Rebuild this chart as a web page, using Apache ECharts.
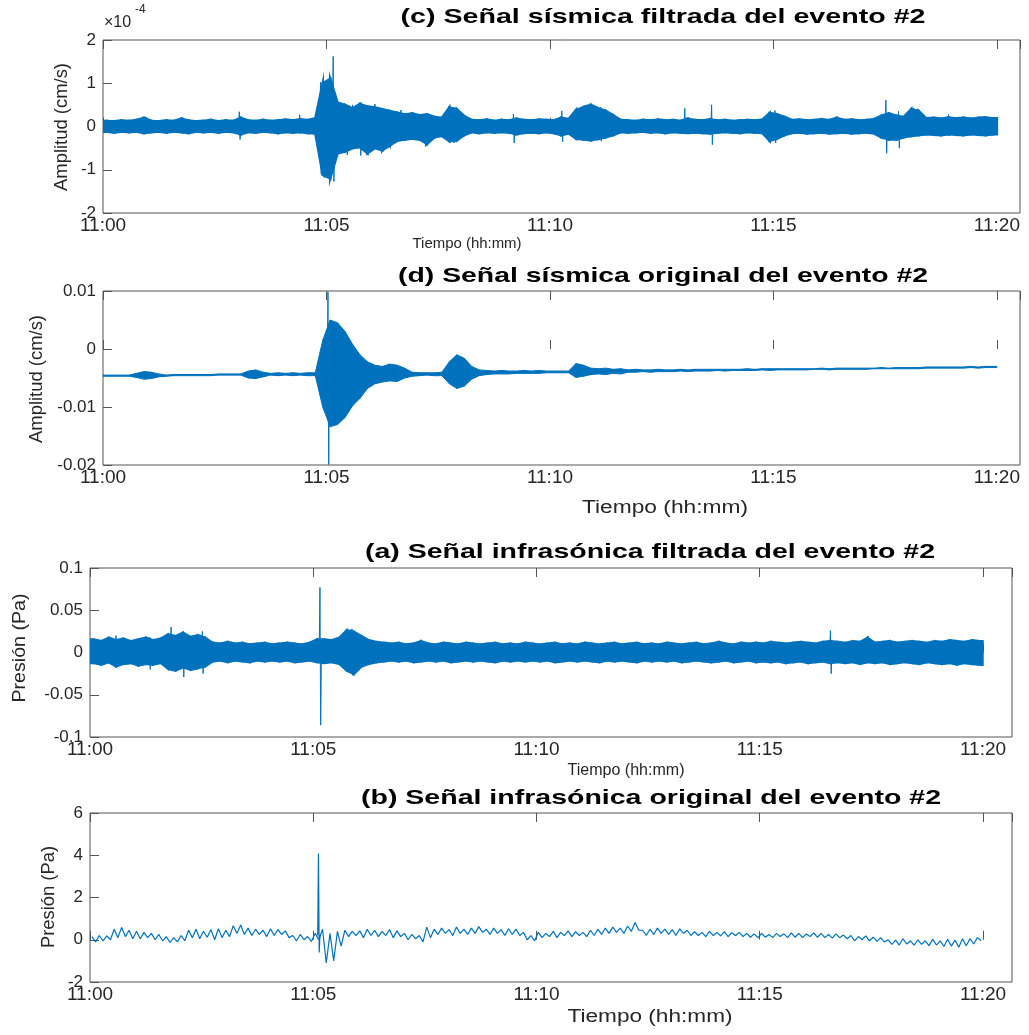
<!DOCTYPE html>
<html>
<head>
<meta charset="utf-8">
<script src="https://cdn.jsdelivr.net/npm/echarts@6/dist/echarts.min.js"></script>
<style>
  html, body { margin: 0; padding: 0; background: #ffffff; }
  #chart { width: 1029px; height: 1035px; }
</style>
</head>
<body>
<div id="chart"></div>
<script>
// Time runs in seconds after 11:00:00; every envelope value covers a 10 s bin.
const BIN = 10;
const tickSeconds = [0, 300, 600, 900, 1200];
const tickLabels = ['11:00', '11:05', '11:10', '11:15', '11:20'];

// (c) filtered seismic signal, envelope in units of 1e-4 cm/s
const seisFiltHi = [
  0.13,0.12,0.14,0.13,0.15,0.2,0.13,0.12,0.14,0.13,
  0.18,0.14,0.12,0.13,0.15,0.12,0.14,0.13,0.2,0.14,
  0.13,0.15,0.13,0.14,0.16,0.14,0.17,0.15,0.19,1.0,
  1.1,0.55,0.5,0.42,0.52,0.46,0.44,0.4,0.36,0.32,
  0.28,0.3,0.26,0.28,0.22,0.2,0.44,0.4,0.24,0.15,
  0.14,0.16,0.13,0.15,0.14,0.18,0.15,0.14,0.16,0.15,
  0.14,0.2,0.17,0.38,0.45,0.5,0.42,0.36,0.26,0.15,
  0.14,0.13,0.15,0.14,0.16,0.14,0.15,0.13,0.18,0.15,
  0.14,0.17,0.14,0.15,0.13,0.14,0.15,0.14,0.16,0.31,
  0.28,0.22,0.15,0.16,0.14,0.15,0.17,0.15,0.2,0.15,
  0.16,0.14,0.15,0.17,0.25,0.3,0.25,0.22,0.4,0.36,
  0.19,0.2,0.18,0.21,0.19,0.2,0.18,0.2,0.21,0.19
];
const seisFiltLo = [
  -0.12,-0.14,-0.12,-0.13,-0.12,-0.15,-0.13,-0.12,-0.14,-0.12,
  -0.13,-0.15,-0.12,-0.13,-0.12,-0.14,-0.12,-0.13,-0.18,-0.13,
  -0.14,-0.12,-0.13,-0.15,-0.13,-0.14,-0.13,-0.15,-0.16,-1.12,
  -1.2,-0.62,-0.58,-0.5,-0.48,-0.62,-0.5,-0.55,-0.44,-0.33,
  -0.3,-0.28,-0.3,-0.4,-0.25,-0.22,-0.34,-0.32,-0.2,-0.13,
  -0.15,-0.13,-0.14,-0.13,-0.14,-0.18,-0.15,-0.14,-0.15,-0.13,
  -0.15,-0.2,-0.16,-0.28,-0.3,-0.32,-0.29,-0.25,-0.2,-0.13,
  -0.14,-0.13,-0.12,-0.14,-0.13,-0.15,-0.13,-0.14,-0.15,-0.14,
  -0.15,-0.16,-0.14,-0.13,-0.14,-0.15,-0.13,-0.14,-0.15,-0.33,
  -0.28,-0.2,-0.15,-0.14,-0.16,-0.15,-0.14,-0.16,-0.15,-0.14,
  -0.16,-0.15,-0.14,-0.16,-0.25,-0.3,-0.3,-0.25,-0.22,-0.2,
  -0.18,-0.19,-0.2,-0.18,-0.19,-0.2,-0.18,-0.19,-0.2,-0.18
];
// isolated spikes: [second, peak, trough]
const seisFiltSpikes = [
  [58,0.22,-0.16],[107,0.21,-0.17],[183,0.34,-0.3],[264,0.27,-0.16],
  [292,1.02,-1.1],[296,1.15,-1.18],[301,1.08,-1.05],[309,1.62,-1.27],
  [318,0.55,-0.55],[327,0.4,-0.66],[335,0.5,-0.45],[345,0.45,-0.67],
  [356,0.48,-0.6],[365,0.52,-0.5],[373,0.3,-0.62],[385,0.35,-0.5],
  [400,0.38,-0.3],[432,0.25,-0.46],[470,0.45,-0.38],[551,0.29,-0.38],
  [616,0.36,-0.35],[650,0.5,-0.3],[668,0.45,-0.34],[781,0.42,-0.16],
  [817,0.5,-0.42],[902,0.37,-0.38],[1051,0.61,-0.62],[1068,0.35,-0.5],
  [1088,0.43,-0.2],[1135,0.28,-0.22]
];

// (d) raw seismic signal, envelope in cm/s
const seisRawHi = [
  -0.0045,-0.0045,-0.0045,-0.0045,-0.0042,-0.0039,-0.0040,-0.0043,-0.0045,-0.0044,
  -0.0044,-0.0044,-0.0044,-0.0044,-0.0044,-0.0043,-0.0043,-0.0043,-0.0043,-0.0038,
  -0.0036,-0.0040,-0.0042,-0.0041,-0.0042,-0.0041,-0.0042,-0.0041,-0.0041,0.0015,
  0.0050,0.0045,0.0030,0.0008,-0.0010,-0.0022,-0.0028,-0.0030,-0.0026,-0.0028,
  -0.0033,-0.0040,-0.0041,-0.0041,-0.0041,-0.0040,-0.0022,-0.0010,-0.0016,-0.0030,
  -0.0036,-0.0037,-0.0038,-0.0037,-0.0038,-0.0038,-0.0037,-0.0038,-0.0037,-0.0038,
  -0.0038,-0.0038,-0.0038,-0.0025,-0.0028,-0.0033,-0.0034,-0.0033,-0.0035,-0.0034,
  -0.0036,-0.0035,-0.0036,-0.0036,-0.0035,-0.0036,-0.0036,-0.0035,-0.0036,-0.0035,
  -0.0035,-0.0035,-0.0035,-0.0035,-0.0035,-0.0035,-0.0034,-0.0035,-0.0034,-0.0034,
  -0.0034,-0.0034,-0.0034,-0.0034,-0.0034,-0.0034,-0.0033,-0.0034,-0.0033,-0.0033,
  -0.0033,-0.0033,-0.0033,-0.0033,-0.0032,-0.0033,-0.0032,-0.0032,-0.0032,-0.0032,
  -0.0031,-0.0031,-0.0031,-0.0031,-0.0031,-0.0031,-0.0030,-0.0031,-0.0030,-0.0030
];
const seisRawLo = [
  -0.0047,-0.0047,-0.0047,-0.0047,-0.0049,-0.0052,-0.0051,-0.0048,-0.0047,-0.0046,
  -0.0046,-0.0046,-0.0046,-0.0046,-0.0046,-0.0045,-0.0045,-0.0045,-0.0045,-0.0050,
  -0.0051,-0.0048,-0.0045,-0.0046,-0.0045,-0.0046,-0.0045,-0.0046,-0.0046,-0.0100,
  -0.0134,-0.0130,-0.0118,-0.0098,-0.0085,-0.0068,-0.0060,-0.0057,-0.0055,-0.0056,
  -0.0050,-0.0047,-0.0046,-0.0045,-0.0046,-0.0046,-0.0060,-0.0068,-0.0064,-0.0052,
  -0.0046,-0.0044,-0.0043,-0.0043,-0.0043,-0.0042,-0.0042,-0.0042,-0.0042,-0.0041,
  -0.0041,-0.0041,-0.0041,-0.0049,-0.0047,-0.0044,-0.0043,-0.0044,-0.0042,-0.0043,
  -0.0040,-0.0040,-0.0039,-0.0040,-0.0039,-0.0039,-0.0039,-0.0038,-0.0039,-0.0038,
  -0.0038,-0.0038,-0.0037,-0.0038,-0.0037,-0.0037,-0.0037,-0.0037,-0.0036,-0.0037,
  -0.0036,-0.0036,-0.0036,-0.0036,-0.0036,-0.0035,-0.0035,-0.0036,-0.0035,-0.0035,
  -0.0035,-0.0035,-0.0035,-0.0034,-0.0034,-0.0034,-0.0034,-0.0034,-0.0034,-0.0034,
  -0.0033,-0.0033,-0.0033,-0.0033,-0.0033,-0.0033,-0.0032,-0.0033,-0.0032,-0.0032
];
// [second, peak, trough, level]
const seisRawSpikes = [
  [296, 0.0018, -0.0105, -0.004], [302, 0.0098, -0.0199, -0.004],
  [309, 0.0042, -0.0128, -0.004], [318, 0.0035, -0.0120, -0.004],
  [330, 0.0012, -0.0100, -0.004]
];

// (a) filtered infrasound signal, envelope in Pa
const infraFiltHi = [
  0.016,0.014,0.018,0.015,0.017,0.014,0.016,0.018,0.015,0.017,
  0.022,0.02,0.024,0.019,0.021,0.018,0.012,0.011,0.013,0.011,
  0.012,0.01,0.011,0.012,0.01,0.011,0.012,0.011,0.01,0.012,
  0.016,0.016,0.015,0.018,0.027,0.025,0.02,0.015,0.013,0.012,
  0.011,0.012,0.01,0.011,0.014,0.011,0.01,0.012,0.011,0.01,
  0.012,0.011,0.01,0.011,0.012,0.01,0.011,0.01,0.012,0.011,
  0.01,0.011,0.012,0.01,0.011,0.01,0.012,0.011,0.01,0.011,
  0.012,0.01,0.011,0.012,0.01,0.011,0.01,0.012,0.011,0.01,
  0.011,0.012,0.01,0.011,0.013,0.011,0.01,0.012,0.011,0.012,
  0.011,0.013,0.012,0.011,0.012,0.013,0.012,0.011,0.013,0.014,
  0.013,0.012,0.014,0.013,0.018,0.012,0.013,0.014,0.012,0.013,
  0.014,0.013,0.012,0.014,0.013,0.015,0.014,0.013,0.015,0.014
];
const infraFiltLo = [
  -0.013,-0.015,-0.012,-0.017,-0.014,-0.013,-0.016,-0.014,-0.015,-0.013,
  -0.02,-0.022,-0.018,-0.021,-0.019,-0.017,-0.011,-0.01,-0.012,-0.01,
  -0.011,-0.012,-0.01,-0.011,-0.01,-0.011,-0.01,-0.012,-0.011,-0.01,
  -0.012,-0.013,-0.012,-0.014,-0.022,-0.026,-0.017,-0.014,-0.012,-0.011,
  -0.01,-0.011,-0.01,-0.012,-0.011,-0.01,-0.011,-0.01,-0.012,-0.011,
  -0.01,-0.011,-0.01,-0.011,-0.012,-0.01,-0.011,-0.01,-0.011,-0.01,
  -0.011,-0.01,-0.012,-0.011,-0.01,-0.011,-0.01,-0.011,-0.012,-0.01,
  -0.011,-0.01,-0.011,-0.012,-0.01,-0.011,-0.01,-0.011,-0.01,-0.012,
  -0.011,-0.01,-0.011,-0.012,-0.011,-0.01,-0.012,-0.011,-0.01,-0.012,
  -0.011,-0.012,-0.011,-0.013,-0.012,-0.011,-0.013,-0.012,-0.011,-0.013,
  -0.012,-0.013,-0.012,-0.014,-0.012,-0.013,-0.012,-0.014,-0.013,-0.012,
  -0.013,-0.014,-0.012,-0.013,-0.014,-0.013,-0.015,-0.013,-0.014,-0.015
];
const infraFiltSpikes = [
  [35,0.02,-0.017],[80,0.018,-0.02],[109,0.03,-0.012],[125,0.018,-0.029],
  [151,0.025,-0.025],[309,0.077,-0.086],[352,0.028,-0.027],
  [995,0.026,-0.025],[1046,0.019,-0.012]
];

// (b) raw infrasound signal, per-bin high / low in Pa
const infraRawHi = [
  0.15,0.2,0.18,0.5,0.58,0.45,0.4,0.35,0.3,0.25,
  0.15,0.1,0.2,0.45,0.5,0.4,0.48,0.52,0.45,0.66,
  0.7,0.55,0.5,0.45,0.52,0.48,0.42,0.2,0.25,0.15,
  0.3,0.5,0.3,0.4,0.45,0.4,0.42,0.5,0.45,0.4,
  0.48,0.42,0.3,0.25,0.2,0.6,0.5,0.55,0.48,0.6,
  0.5,0.55,0.62,0.5,0.55,0.48,0.52,0.5,0.35,0.2,
  0.35,0.3,0.4,0.35,0.42,0.38,0.35,0.45,0.5,0.55,
  0.6,0.55,0.65,0.82,0.45,0.5,0.55,0.5,0.48,0.52,
  0.45,0.38,0.35,0.4,0.35,0.38,0.33,0.35,0.3,0.28,
  0.3,0.25,0.3,0.28,0.32,0.3,0.27,0.32,0.3,0.25,
  0.28,0.22,0.2,0.15,0.18,0.12,0.1,0.0,-0.02,0.05,
  -0.05,0.0,-0.05,0.02,-0.05,0.02,-0.02,0.05,0.05,0.1
];
const infraRawLo = [
  -0.1,-0.05,0.0,0.1,0.15,0.05,0.05,0.1,0.0,-0.05,
  -0.13,-0.1,-0.05,0.1,0.05,0.12,0.0,0.1,0.15,0.3,
  0.25,0.2,0.25,0.15,0.2,0.25,0.1,-0.05,0.0,-0.08,
  0.0,-1.1,-1.0,-0.3,0.15,0.2,0.1,0.2,0.15,0.2,
  0.1,0.15,0.0,0.05,-0.1,0.1,0.25,0.3,0.2,0.3,
  0.25,0.3,0.35,0.25,0.3,0.2,0.25,0.2,0.0,-0.05,
  0.1,0.15,0.1,0.2,0.15,0.2,0.15,0.2,0.25,0.3,
  0.35,0.3,0.4,0.45,0.2,0.25,0.3,0.25,0.2,0.3,
  0.2,0.2,0.15,0.2,0.18,0.15,0.2,0.15,0.12,0.1,
  0.12,0.1,0.15,0.1,0.12,0.1,0.15,0.12,0.1,0.08,
  0.1,0.05,-0.05,0.0,-0.05,-0.08,-0.1,-0.22,-0.25,-0.2,
  -0.25,-0.22,-0.28,-0.25,-0.32,-0.3,-0.35,-0.28,-0.2,-0.05
];
const infraRawSpikes = [[307, 4.08, -0.6, 0.2]];

// ---------------------------------------------------------------
const BLUE = '#0072BD';
const FONT = '"Liberation Sans", Arial, Helvetica, sans-serif';
const AXIS_GRAY = '#555555';
const TEXT = '#262626';

// high/low alternating trace for the raw pressure record
function zigzag(hi, lo) {
  const pts = [];
  for (let i = 0; i < hi.length; i++) {
    pts.push([i * BIN + 2.5, hi[i]]);
    pts.push([i * BIN + 7.5, lo[i]]);
  }
  return pts;
}
function spikePath(spikes) {
  const pts = [];
  spikes.forEach(s => {
    const level = s.length > 3 ? s[3] : 0;
    pts.push([s[0] - 1, level], [s[0], s[1]], [s[0] + 1, s[2]], [s[0] + 2, level]);
  });
  return pts;
}

const grids = [
  { left: 103, top: 40,  width: 917, height: 173 },   // (c)
  { left: 103, top: 291, width: 917, height: 174 },   // (d)
  { left: 90,  top: 568, width: 922, height: 169 },   // (a)
  { left: 90,  top: 813, width: 922, height: 169 }    // (b)
];
const xMax = [1231, 1231, 1239, 1239];
const yRange = [
  { min: -2, max: 2, interval: 1 },
  { min: -0.02, max: 0.01, interval: 0.01 },
  { min: -0.1, max: 0.1, interval: 0.05 },
  { min: -2, max: 6, interval: 2 }
];

function tickText(v) {
  const k = tickSeconds.indexOf(Math.round(v));
  return (k >= 0 && Math.abs(v - tickSeconds[k]) < 1e-6) ? tickLabels[k] : '';
}

const xAxis = [], yAxis = [];
grids.forEach((g, gi) => {
  const common = {
    type: 'value', gridIndex: gi, min: 0, max: xMax[gi], interval: 300,
    axisLine: { show: false }, splitLine: { show: false },
    axisTick: { inside: true, length: 9, lineStyle: { color: AXIS_GRAY, width: 1 } }
  };
  xAxis.push(Object.assign({}, common, {
    position: 'bottom',
    axisLabel: { margin: 3, fontSize: 19, color: TEXT, fontFamily: FONT, formatter: tickText, showMaxLabel: false }
  }));
  xAxis.push(Object.assign({}, common, {
    position: 'top', axisLabel: { show: false }
  }));
  yAxis.push(Object.assign({
    type: 'value', gridIndex: gi,
    axisLine: { show: false }, splitLine: { show: false },
    axisTick: { inside: true, length: 9, lineStyle: { color: AXIS_GRAY, width: 1 } },
    axisLabel: { margin: 7, fontSize: 17, color: TEXT, fontFamily: FONT }
  }, yRange[gi]));
});

const series = [];
// filled envelope: one quad between consecutive bins, placed through the axis scales
function addBand(gi, hi, lo, edge) {
  const n = hi.length;
  const rows = [[0, hi[0], lo[0]]];
  for (let i = 0; i < n; i++) rows.push([i * BIN + BIN / 2, hi[i], lo[i]]);
  rows.push([n * BIN, hi[n - 1], lo[n - 1]]);
  series.push({
    type: 'custom', xAxisIndex: gi * 2, yAxisIndex: gi, data: rows,
    encode: { x: 0, y: [1, 2] }, silent: true, animation: false, clip: true,
    renderItem: function (params, api) {
      const i = params.dataIndex;
      if (i >= rows.length - 1) return null;
      const a = rows[i], b = rows[i + 1];
      return {
        type: 'polygon',
        shape: { points: [api.coord([a[0], a[1]]), api.coord([b[0], b[1]]),
                          api.coord([b[0], b[2]]), api.coord([a[0], a[2]])] },
        style: { fill: BLUE, stroke: BLUE, lineWidth: edge }
      };
    }
  });
}
function addLine(gi, pts, width) {
  series.push({
    type: 'line', xAxisIndex: gi * 2, yAxisIndex: gi, data: pts,
    symbol: 'none', silent: true, animation: false,
    lineStyle: { color: BLUE, width: width }
  });
}

addBand(0, seisFiltHi, seisFiltLo, 2.5);
addLine(0, spikePath(seisFiltSpikes), 1);
addBand(1, seisRawHi, seisRawLo, 1);
addLine(1, spikePath(seisRawSpikes), 1);
addBand(2, infraFiltHi, infraFiltLo, 1.5);
addLine(2, spikePath(infraFiltSpikes), 1);
addLine(3, zigzag(infraRawHi, infraRawLo), 1.2);
addLine(3, spikePath(infraRawSpikes), 1.2);

// text that is stretched horizontally to a fixed width
const mctx = document.createElement('canvas').getContext('2d');
function fitText(text, font, cx, cy, width, fill, rotation) {
  mctx.font = font;
  const s = width / mctx.measureText(text).width;
  return {
    type: 'text', x: cx, y: cy, rotation: rotation || 0, scaleX: s, silent: true, z: 100,
    style: { text: text, font: font, fill: fill, align: 'center', verticalAlign: 'middle',
             textAlign: 'center', textVerticalAlign: 'middle' }
  };
}

const TITLE_FONT = 'bold 21px ' + FONT;
const titles = [
  ['(c) Señal sísmica filtrada del evento #2', 663, 17, 525],
  ['(d) Señal sísmica original del evento #2', 663, 276, 530],
  ['(a) Señal infrasónica filtrada del evento #2', 650, 552, 570],
  ['(b) Señal infrasónica original del evento #2', 651, 798, 580]
];
const xNames = [
  ['Tiempo (hh:mm)', 467, 244, 109, 15],
  ['Tiempo (hh:mm)', 665, 508, 166, 18],
  ['Tiempo (hh:mm)', 626, 771, 117, 16],
  ['Tiempo (hh:mm)', 650, 1017, 165, 18]
];
const yNames = [
  ['Amplitud (cm/s)', 62, 127, 128],
  ['Amplitud (cm/s)', 37, 379, 128],
  ['Presión (Pa)', 20, 648, 109],
  ['Presión (Pa)', 49, 897, 102]
];

const graphic = [];
titles.forEach(t => graphic.push(fitText(t[0], TITLE_FONT, t[1], t[2], t[3], '#000000')));
xNames.forEach(t => graphic.push(fitText(t[0], t[4] + 'px ' + FONT, t[1], t[2], t[3], TEXT)));
yNames.forEach(t => graphic.push(fitText(t[0], '18px ' + FONT, t[1], t[2], t[3], TEXT, Math.PI / 2)));
// exponent of the (c) amplitude axis
graphic.push({ type: 'text', x: 104, y: 23, silent: true,
  style: { text: '×10', font: '16px ' + FONT, fill: TEXT, align: 'left', verticalAlign: 'middle',
           textAlign: 'left', textVerticalAlign: 'middle' } });
graphic.push({ type: 'text', x: 135, y: 10, silent: true,
  style: { text: '-4', font: '12px ' + FONT, fill: TEXT, align: 'left', verticalAlign: 'middle',
           textAlign: 'left', textVerticalAlign: 'middle' } });

const chart = echarts.init(document.getElementById('chart'), null, { renderer: 'canvas' });
chart.setOption({
  backgroundColor: '#ffffff',
  animation: false,
  grid: grids.map(g => Object.assign({ show: true, borderColor: AXIS_GRAY, borderWidth: 1,
                                        backgroundColor: 'transparent', containLabel: false }, g)),
  xAxis: xAxis,
  yAxis: yAxis,
  series: series,
  graphic: graphic
});
</script>
</body>
</html>
